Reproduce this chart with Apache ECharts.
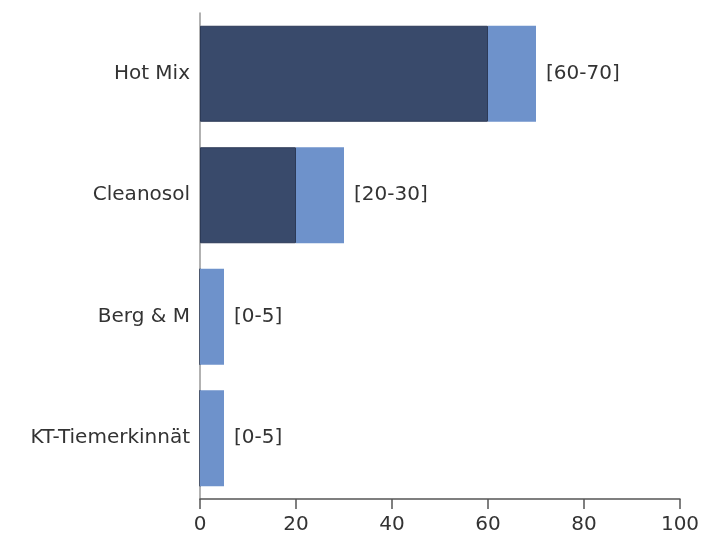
<!DOCTYPE html>
<html>
<head>
<meta charset="utf-8">
<script src="https://cdn.jsdelivr.net/npm/echarts@6/dist/echarts.min.js"></script>
<style>
  html, body { margin: 0; padding: 0; background: #fff; }
  #chart { width: 706px; height: 540px; }
</style>
</head>
<body>
<div id="chart"></div>
<script>
const categories = ['Hot Mix', 'Cleanosol', 'Berg & M', 'KT-Tiemerkinnät'];
const lowValues = [60, 20, 0, 0];
const rangeValues = [10, 10, 5, 5];
const rangeLabels = ['[60-70]', '[20-30]', '[0-5]', '[0-5]'];
const xTicks = [0, 20, 40, 60, 80, 100];

const FONT = '"DejaVu Sans", sans-serif';
const TEXT = '#333333';

const chart = echarts.init(document.getElementById('chart'));

chart.setOption({
  animation: false,
  grid: { left: 200, right: 26, top: 13, bottom: 41 },
  xAxis: {
    type: 'value',
    min: xTicks[0],
    max: xTicks[xTicks.length - 1],
    interval: 20,
    axisLine: { show: true, lineStyle: { color: '#555', width: 1.5 } },
    axisTick: { show: true, length: 10, lineStyle: { color: '#555', width: 1.5 } },
    splitLine: { show: false },
    axisLabel: { color: TEXT, fontSize: 20, fontFamily: FONT, margin: 16 },
  },
  yAxis: {
    type: 'category',
    data: categories,
    inverse: true,
    axisLine: { show: true, lineStyle: { color: '#999', width: 1.5 } },
    axisTick: { show: false },
    axisLabel: { color: TEXT, fontSize: 20, fontFamily: FONT, margin: 10 },
  },
  series: [
    {
      type: 'bar',
      stack: 'total',
      data: lowValues,
      barWidth: 96,
      itemStyle: { color: '#394a6b', borderColor: '#2c3a57', borderWidth: 1 },
    },
    {
      type: 'bar',
      stack: 'total',
      data: rangeValues,
      barWidth: 96,
      itemStyle: { color: '#6e92cb' },
      label: {
        show: true,
        position: 'right',
        distance: 10,
        color: TEXT,
        fontSize: 20,
        fontFamily: FONT,
        formatter: (p) => rangeLabels[p.dataIndex],
      },
    },
  ],
});
</script>
</body>
</html>
